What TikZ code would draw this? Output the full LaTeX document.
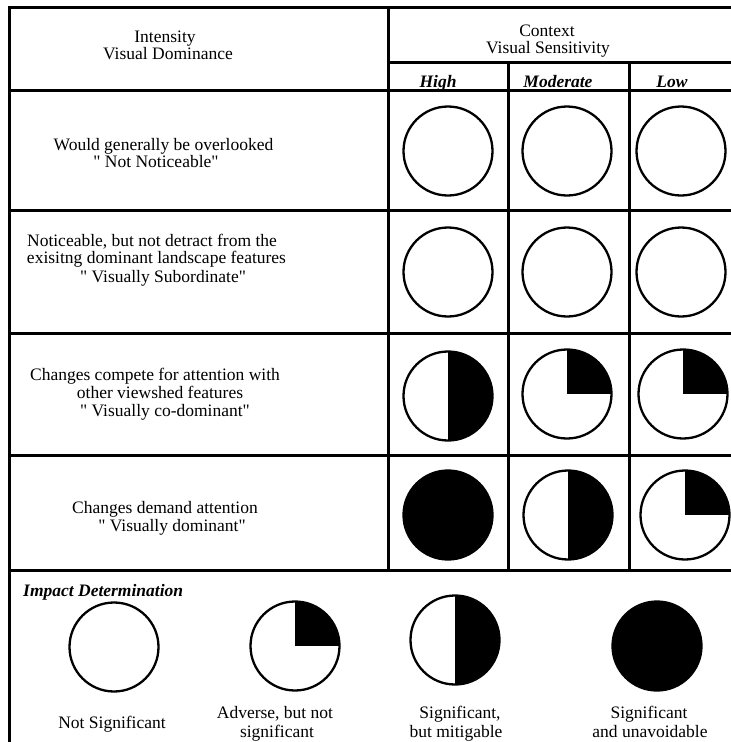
\documentclass[tikz,border=0pt]{standalone}
\usepackage{fontspec}
\setmainfont{Liberation Serif}
\newcommand{\qq}{\textquotedbl}
\begin{document}
\begin{tikzpicture}[x=1pt,y=-1pt,
  grid/.style={line width=3pt, line cap=rect},
  disc/.style={circle, draw, line width=2.3pt, minimum size=89pt, inner sep=0pt, outer sep=0pt},
  quarter/.style={disc, path picture={\fill[black] (path picture bounding box.center) rectangle (path picture bounding box.north east);}},
  half/.style={disc, path picture={\fill[black] (path picture bounding box.south) rectangle (path picture bounding box.north east);}},
  full/.style={disc, fill=black},
  txt/.style={anchor=base, inner sep=0pt, font=\fontsize{17.5}{17.5}\selectfont},
  hd/.style={anchor=base, inner sep=0pt, font=\fontsize{17.5}{17.5}\selectfont\bfseries\itshape}]
\useasboundingbox (0,0) rectangle (731,742);

% table lines
\draw[grid] (9,7) -- (731,7);
\draw[grid] (9,7) -- (9,742);
\draw[grid] (388,7) -- (388,570);
\draw[grid] (388,62) -- (731,62);
\draw[grid] (9,90) -- (731,90);
\draw[grid] (508,62) -- (508,570);
\draw[grid] (629,62) -- (629,570);
\draw[grid] (9,210) -- (731,210);
\draw[grid] (9,333) -- (731,333);
\draw[grid] (9,455) -- (731,455);
\draw[grid] (9,570) -- (731,570);

% header
\node[txt] (int1) at (165,42) {Intensity};
\node[txt] (int2) at (168,59) {Visual Dominance};
\node[txt] (ctx1) at (547,36) {Context};
\node[txt] (ctx2) at (548,53) {Visual Sensitivity};
\node[hd] (hi) at (438,87) {High};
\node[hd] (mod) at (558,87) {Moderate};
\node[hd] (low) at (672,87) {Low};

% row texts
\node[txt] (t11) at (163.5,150) {Would generally be overlooked};
\node[txt] (t12) at (156,167) {\qq{} Not Noticeable\qq};
\node[txt] (t21) at (152,246) {Noticeable, but not detract from the};
\node[txt] (t22) at (156.5,263) {exisitng dominant landscape features};
\node[txt] (t23) at (163,282) {\qq{} Visually Subordinate\qq};
\node[txt] (t31) at (155,380) {Changes compete for attention with};
\node[txt] (t32) at (160,398) {other viewshed features};
\node[txt] (t33) at (165,416) {\qq{} Visually co-dominant\qq};
\node[txt] (t41) at (165,513) {Changes demand attention};
\node[txt] (t42) at (172,531) {\qq{} Visually dominant\qq};

% matrix circles
\node[disc] (c11) at (448,151) {};
\node[disc] (c12) at (567,151) {};
\node[disc] (c13) at (681,151) {};
\node[disc] (c21) at (448,272) {};
\node[disc] (c22) at (567,272) {};
\node[disc] (c23) at (681,272) {};
\node[half] (c31) at (448,396) {};
\node[quarter] (c32) at (567,394) {};
\node[quarter] (c33) at (683,394) {};
\node[full] (c41) at (448,515) {};
\node[half] (c42) at (568,515) {};
\node[quarter] (c43) at (685,515) {};

% impact determination
\node[hd, anchor=base west] (imp) at (23,596) {Impact Determination};
\node[disc] (b1) at (114,647) {};
\node[quarter] (b2) at (295,646) {};
\node[half] (b3) at (455,640) {};
\node[full] (b4) at (657,646) {};
\node[txt] (l1) at (112,728) {Not Significant};
\node[txt] (l2a) at (275,718) {Adverse, but not};
\node[txt] (l2b) at (277,737) {significant};
\node[txt] (l3a) at (460,718) {Significant,};
\node[txt] (l3b) at (456,737) {but mitigable};
\node[txt] (l4a) at (649,718) {Significant};
\node[txt] (l4b) at (650,737) {and unavoidable};
\end{tikzpicture}
\end{document}
